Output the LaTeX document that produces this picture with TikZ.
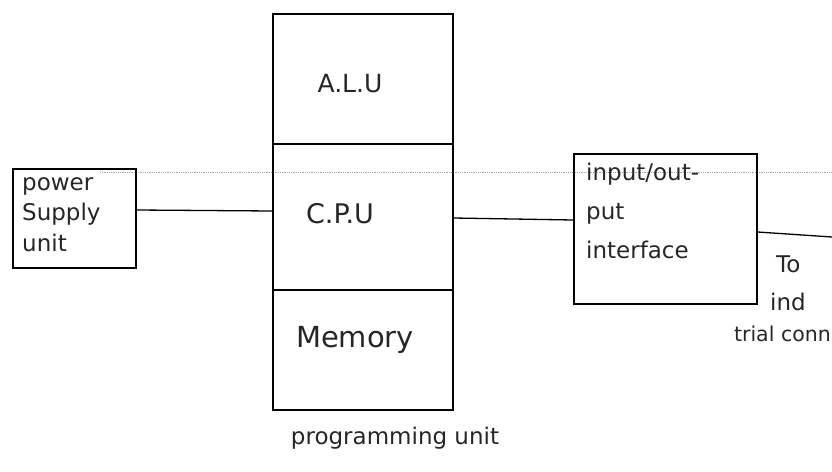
\documentclass[tikz,border=0pt]{standalone}
\usepackage{fontspec}
\setmainfont{DejaVu Sans}
\begin{document}
\begin{tikzpicture}[x=1pt,y=-1pt,
  boxstyle/.style={draw=black, line width=1.6pt, inner sep=0pt, anchor=north west},
  conn/.style={draw=black, line width=1.3pt},
  lbl/.style={font=\fontsize{23}{27}\selectfont, inner sep=0pt, text=black!85},
  bleed/.style={draw=black!35, line width=0.8pt, densely dotted}]
\useasboundingbox (0,0) rectangle (832,471);
% bleed-through dotted line
\draw[bleed] (100,172) -- (832,172);
% power supply
\node[boxstyle, minimum width=123pt, minimum height=99pt] (ps) at (12,168) {};
\node[lbl, anchor=west] (ps1) at (22,186) {power};
\node[lbl, anchor=west] (ps2) at (22,214) {Supply};
\node[lbl, anchor=west] (ps3) at (22,243) {unit};
% main box
\node[boxstyle, minimum width=180pt, minimum height=130pt] (alu) at (272,13) {};
\node[boxstyle, minimum width=180pt, minimum height=146pt] (cpu) at (272,143) {};
\node[boxstyle, minimum width=180pt, minimum height=120pt] (mem) at (272,289) {};
\node[lbl, font=\fontsize{25}{29}\selectfont] (alut) at (350,84) {A.L.U};
\node[lbl, font=\fontsize{27}{31}\selectfont] (cput) at (340,214) {C.P.U};
\node[lbl, font=\fontsize{29}{33}\selectfont] (memt) at (355,340) {Memory};
\node[lbl] (prog) at (395,438) {programming unit};
% io box
\node[boxstyle, minimum width=183pt, minimum height=150pt] (io) at (573,153) {};
\node[lbl, anchor=west] (io1) at (586,174) {input/out-};
\node[lbl, anchor=west] (io2) at (586,214) {put};
\node[lbl, anchor=west] (io3) at (586,250) {interface};
% connectors
\draw[conn] (ps.east |- 0,210) -- (cpu.west |- 0,211);
\draw[conn] (cpu.east |- 0,218) -- (io.west |- 0,220);
\coordinate (edge) at (832,237);
\draw[conn] (io.east |- 0,232) -- (edge);
\node[lbl, anchor=west] (to1) at (776,264) {To};
\node[lbl, anchor=west] (to2) at (770,302) {ind};
\node[lbl, anchor=east, font=\fontsize{20.5}{24}\selectfont] (to3) at (831,334) {trial conn};
\end{tikzpicture}
\end{document}
